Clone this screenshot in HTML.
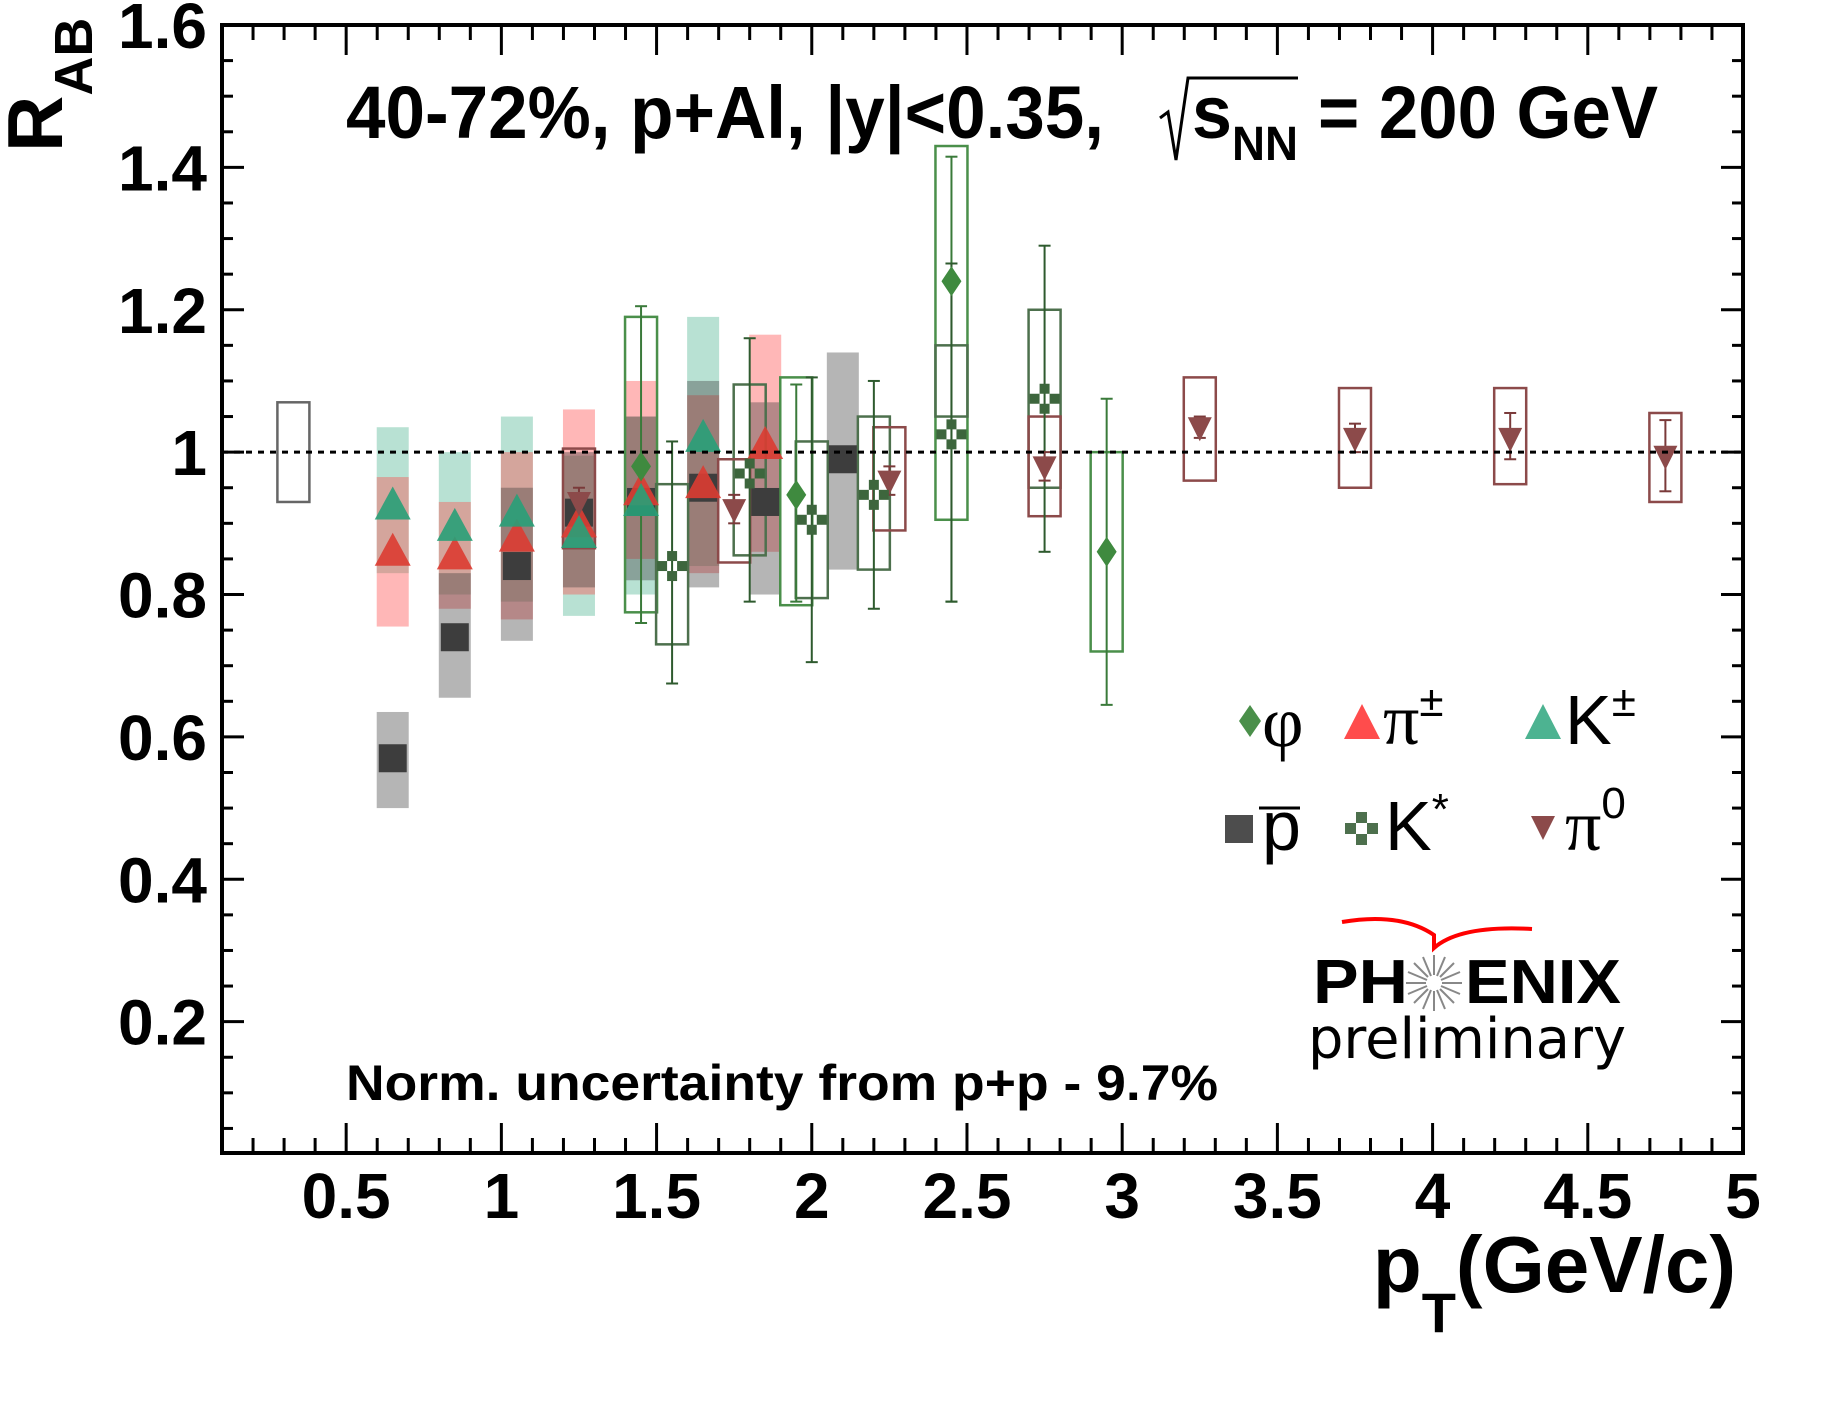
<!DOCTYPE html>
<html><head><meta charset="utf-8"><style>
html,body{margin:0;padding:0;background:#fff;}
svg{display:block;font-family:"Liberation Sans",Arial,sans-serif;}
</style></head><body>
<svg id="chart" width="1841" height="1401" viewBox="0 0 1841 1401" xmlns="http://www.w3.org/2000/svg">
<rect width="1841" height="1401" fill="#fff"/>
<g id="boxes"></g>
<g id="marks"></g>
<g id="axes"></g>
<text x="346" y="138" font-size="74" font-weight="bold" textLength="758" lengthAdjust="spacingAndGlyphs">40-72%, p+Al, |y|&lt;0.35,</text>
<path d="M1160 118 L1168 112 L1176 160 L1188 78 L1298 78" fill="none" stroke="#000" stroke-width="3"/>
<text x="1192" y="138" font-size="74" font-weight="bold" textLength="40" lengthAdjust="spacingAndGlyphs">s</text>
<text x="1232" y="160" font-size="48" font-weight="bold" textLength="66" lengthAdjust="spacingAndGlyphs">NN</text>
<text x="1318" y="138" font-size="74" font-weight="bold" textLength="340" lengthAdjust="spacingAndGlyphs">= 200 GeV</text>
<text transform="translate(62,152) rotate(-90)" font-size="78" font-weight="bold">R<tspan font-size="54" dy="30">AB</tspan></text>
<text x="1736" y="1292" text-anchor="end" font-size="80" font-weight="bold">p<tspan font-size="56" dy="40">T</tspan><tspan dy="-40">(GeV/c)</tspan></text>
<text x="346" y="1100" font-size="50" font-weight="bold" textLength="872" lengthAdjust="spacingAndGlyphs">Norm. uncertainty from p+p - 9.7%</text>
<g>
 <polygon points="1250,705 1261,721 1250,737 1239,721" fill="#4a8f4a"/>
 <text x="1262" y="746" font-size="72" font-family="Liberation Serif,serif">φ</text>
 <polygon points="1362,704 1380,739 1344,739" fill="#ff4c4c"/>
 <text x="1383" y="744" font-size="72" font-family="Liberation Serif,serif">π<tspan font-size="44" dy="-28" font-family="Liberation Sans,sans-serif">±</tspan></text>
 <polygon points="1543,704 1561,739 1525,739" fill="#4db391"/>
 <text x="1565" y="744" font-size="70">K<tspan font-size="44" dy="-28">±</tspan></text>
 <rect x="1225" y="815" width="28" height="28" fill="#4d4d4d"/>
 <text x="1262" y="850" font-size="70">p</text>
 <line x1="1259" y1="808" x2="1300" y2="808" stroke="#000" stroke-width="3"/>
 <g fill="#4d704d">
  <rect x="1356" y="812" width="11" height="11"/><rect x="1345" y="823" width="11" height="11"/><rect x="1367" y="823" width="11" height="11"/><rect x="1356" y="834" width="11" height="11"/></g>
 <text x="1385" y="850" font-size="70">K<tspan font-size="44" dy="-26">*</tspan></text>
 <polygon points="1531,816 1555,816 1543,840" fill="#8c4a4a"/>
 <text x="1565" y="850" font-size="72" font-family="Liberation Serif,serif">π<tspan font-size="44" dy="-32" font-family="Liberation Sans,sans-serif">0</tspan></text>
</g>
<g>
 <path d="M1342 922 Q1400 912 1434 935 L1434 948 Q1460 925 1532 929" fill="none" stroke="#f00" stroke-width="4"/>
 <text x="1313" y="1003" font-size="62" font-weight="bold" textLength="95" lengthAdjust="spacingAndGlyphs">PH</text>
 <g id="star" stroke="#888" stroke-width="2">
  <line x1="1442" y1="983" x2="1462" y2="983"/><line x1="1426" y1="983" x2="1406" y2="983"/>
  <line x1="1434" y1="975" x2="1434" y2="955"/><line x1="1434" y1="991" x2="1434" y2="1011"/>
  <line x1="1440" y1="977" x2="1454" y2="963"/><line x1="1428" y1="989" x2="1414" y2="1003"/>
  <line x1="1428" y1="977" x2="1414" y2="963"/><line x1="1440" y1="989" x2="1454" y2="1003"/>
  <line x1="1441" y1="980" x2="1460" y2="972"/><line x1="1427" y1="986" x2="1408" y2="994"/>
  <line x1="1441" y1="986" x2="1460" y2="994"/><line x1="1427" y1="980" x2="1408" y2="972"/>
  <line x1="1437" y1="976" x2="1445" y2="957"/><line x1="1431" y1="990" x2="1423" y2="1009"/>
  <line x1="1431" y1="976" x2="1423" y2="957"/><line x1="1437" y1="990" x2="1445" y2="1009"/>
 </g>
 <text x="1465" y="1003" font-size="62" font-weight="bold" textLength="156" lengthAdjust="spacingAndGlyphs">ENIX</text>
 <text x="1308" y="1058" font-size="56" font-family="DejaVu Sans,sans-serif" textLength="318" lengthAdjust="spacingAndGlyphs">preliminary</text>
</g>
</svg>
<script>
// ---- data ----
var xTicks = [0.5,1,1.5,2,2.5,3,3.5,4,4.5,5];
var xTickLabels = ["0.5","1","1.5","2","2.5","3","3.5","4","4.5","5"];
var yTicks = [0.2,0.4,0.6,0.8,1.0,1.2,1.4,1.6];
var yTickLabels = ["0.2","0.4","0.6","0.8","1","1.2","1.4","1.6"];

var phiX = [1.45,1.95,2.45,2.95];
var phiY = [0.98,0.94,1.24,0.86];
var phiLo = [0.775,0.785,0.905,0.72];
var phiHi = [1.19,1.105,1.43,1.0];
var phiErrLo = [0.76,0.79,0.79,0.645];
var phiErrHi = [1.205,1.095,1.415,1.075];

var kstX = [1.55,1.8,2.0,2.2,2.45,2.75];
var kstY = [0.84,0.97,0.905,0.94,1.025,1.075];
var kstLo = [0.73,0.855,0.795,0.835,1.05,0.95];
var kstHi = [0.955,1.095,1.015,1.05,1.15,1.2];
var kstErrLo = [0.675,0.79,0.705,0.78,0.79,0.86];
var kstErrHi = [1.015,1.16,1.105,1.1,1.265,1.29];

var pi0X = [1.25,1.75,2.25,2.75,3.25,3.75,4.25,4.75];
var pi0Y = [0.93,0.92,0.96,0.98,1.035,1.02,1.02,0.995];
var pi0Lo = [0.865,0.845,0.89,0.91,0.96,0.95,0.955,0.93];
var pi0Hi = [1.005,0.99,1.035,1.05,1.105,1.09,1.09,1.055];
var pi0ErrLo = [0.9,0.9,0.94,0.96,1.02,1.0,0.99,0.945];
var pi0ErrHi = [0.95,0.94,0.98,1.0,1.05,1.04,1.055,1.045];

var pipX = [0.65,0.85,1.05,1.25,1.45,1.65,1.85];
var pipY = [0.86,0.855,0.88,0.9,0.945,0.955,1.01];
var pipLo = [0.755,0.78,0.765,0.8,0.85,0.83,0.86];
var pipHi = [0.965,0.93,1.0,1.06,1.1,1.08,1.165];

var kpX = [0.65,0.85,1.05,1.25,1.45,1.65];
var kpY = [0.925,0.895,0.915,0.885,0.93,1.02];
var kpLo = [0.83,0.8,0.79,0.77,0.8,0.84];
var kpHi = [1.035,1.0,1.05,0.995,1.05,1.19];

var pbX = [0.65,0.85,1.05,1.25,1.45,1.65,1.85,2.1];
var pbY = [0.57,0.74,0.84,0.915,0.93,0.95,0.93,0.99];
var pbLo = [0.5,0.655,0.735,0.81,0.82,0.81,0.8,0.835];
var pbHi = [0.635,0.83,0.95,1.0,1.05,1.1,1.07,1.14];

var normX = [0.33];
var normLo = [0.93];
var normHi = [1.07];

// ---- axes ----
var X0=222, X1=1743, Y0=25, Y1=1153;
var xMin=0.1, xMax=5, yMin=0.0155, yMax=1.6;
function sx(v){ return X0 + (v-xMin)/(xMax-xMin)*(X1-X0); }
function sy(v){ return Y1 - (v-yMin)/(yMax-yMin)*(Y1-Y0); }
var NS="http://www.w3.org/2000/svg";
function mk(tag, attrs, parent){var e=document.createElementNS(NS,tag);for(var k in attrs)e.setAttribute(k,attrs[k]);parent.appendChild(e);return e;}
var axes=document.getElementById('axes'), boxes=document.getElementById('boxes'), marks=document.getElementById('marks');

var ref=mk('line',{x1:X0,x2:X1,y1:sy(1),y2:sy(1),stroke:'#000','stroke-width':3,'stroke-dasharray':'6 6'},axes);



function fillBoxes(xs,lo,hi,col,name){
  for(var i=0;i<xs.length;i++){
    var r=mk('rect',{x:sx(xs[i])-16,y:sy(hi[i]),width:32,height:sy(lo[i])-sy(hi[i]),fill:col},boxes);
    
    
  }
}
fillBoxes(kpX,kpLo,kpHi,'rgba(77,179,145,0.4)','kpm');
fillBoxes(pipX,pipLo,pipHi,'rgba(255,76,76,0.4)','pipm');
fillBoxes(pbX,pbLo,pbHi,'rgba(60,60,60,0.38)','pbar');

function openBoxes(xs,lo,hi,col,name,w){
  for(var i=0;i<xs.length;i++){
    var r=mk('rect',{x:sx(xs[i])-w/2,y:sy(hi[i]),width:w,height:sy(lo[i])-sy(hi[i]),fill:'none',stroke:col,'stroke-width':2.5},boxes);
    
    
  }
}
openBoxes(phiX,phiLo,phiHi,'#4a8f4a','phi',32);
openBoxes(kstX,kstLo,kstHi,'#4d704d','kstar',32);
openBoxes(pi0X,pi0Lo,pi0Hi,'#8c4a4a','pi0',32);
openBoxes(normX,normLo,normHi,'#666','norm',32);

function errBars(xs,lo,hi,col,name){
  for(var i=0;i<xs.length;i++){
    var g=mk('g',{stroke:col,'stroke-width':2},marks);
    
    
    var x=sx(xs[i]);
    mk('line',{x1:x,x2:x,y1:sy(lo[i]),y2:sy(hi[i])},g);
    mk('line',{x1:x-6,x2:x+6,y1:sy(lo[i]),y2:sy(lo[i])},g);
    mk('line',{x1:x-6,x2:x+6,y1:sy(hi[i]),y2:sy(hi[i])},g);
  }
}
errBars(phiX,phiErrLo,phiErrHi,'#3a7a3a','phi');
errBars(kstX,kstErrLo,kstErrHi,'#2e5a2e','kstar');
errBars(pi0X,pi0ErrLo,pi0ErrHi,'#7a3a3a','pi0');

var i,x,y,m,g;
for(i=0;i<pbX.length;i++){x=sx(pbX[i]);y=sy(pbY[i]);
  m=mk('rect',{x:x-14,y:y-14,width:28,height:28,fill:'#3d3d3d'},marks);
  
  }
for(i=0;i<pipX.length;i++){x=sx(pipX[i]);y=sy(pipY[i]);
  m=mk('polygon',{points:x+','+(y-19)+' '+(x+18)+','+(y+14)+' '+(x-18)+','+(y+14),fill:'rgba(220,60,50,0.9)'},marks);
  
  }
for(i=0;i<kpX.length;i++){x=sx(kpX[i]);y=sy(kpY[i]);
  m=mk('polygon',{points:x+','+(y-19)+' '+(x+18)+','+(y+14)+' '+(x-18)+','+(y+14),fill:'rgba(40,160,120,0.9)'},marks);
  
  }
for(i=0;i<pi0X.length;i++){x=sx(pi0X[i]);y=sy(pi0Y[i]);
  m=mk('polygon',{points:(x-12)+','+(y-10)+' '+(x+12)+','+(y-10)+' '+x+','+(y+14),fill:'#8c4a4a'},marks);
  
  }
for(i=0;i<phiX.length;i++){x=sx(phiX[i]);y=sy(phiY[i]);
  m=mk('polygon',{points:x+','+(y-15)+' '+(x+10)+','+y+' '+x+','+(y+15)+' '+(x-10)+','+y,fill:'#3f8a3f'},marks);
  
  }
for(i=0;i<kstX.length;i++){x=sx(kstX[i]);y=sy(kstY[i]);
  g=mk('g',{fill:'#3d663d'},marks);
  
  
  mk('rect',{x:x-5,y:y-15,width:10,height:10},g);mk('rect',{x:x-15,y:y-5,width:10,height:10},g);
  mk('rect',{x:x+5,y:y-5,width:10,height:10},g);mk('rect',{x:x-5,y:y+5,width:10,height:10},g);}

var fr=mk('rect',{x:X0,y:Y0,width:X1-X0,height:Y1-Y0,fill:'none',stroke:'#000','stroke-width':4},axes);


for(var v=2;v<=50;v++){var val=v/10; var xx=sx(val);
  var L=(v%5===0)?30:15;
  mk('line',{x1:xx,x2:xx,y1:Y1,y2:Y1-L,stroke:'#000','stroke-width':3},axes);
  mk('line',{x1:xx,x2:xx,y1:Y0,y2:Y0+L,stroke:'#000','stroke-width':3},axes);}
for(i=0;i<xTicks.length;i++){
  var t=mk('text',{x:sx(xTicks[i]),y:1218,'text-anchor':'middle','font-size':64,'font-weight':'bold'},axes);
  t.textContent=xTickLabels[i];
  
  }
for(v=1;v<=32;v++){var yy=sy(v*0.05); var L2=(v%4===0)?22:11;
  mk('line',{x1:X0,x2:X0+L2,y1:yy,y2:yy,stroke:'#000','stroke-width':3},axes);
  mk('line',{x1:X1,x2:X1-L2,y1:yy,y2:yy,stroke:'#000','stroke-width':3},axes);}
for(i=0;i<yTicks.length;i++){
  var t2=mk('text',{x:207,y:sy(yTicks[i])+23,'text-anchor':'end','font-size':64,'font-weight':'bold'},axes);
  t2.textContent=yTickLabels[i];
  
  }
</script>
</body></html>
